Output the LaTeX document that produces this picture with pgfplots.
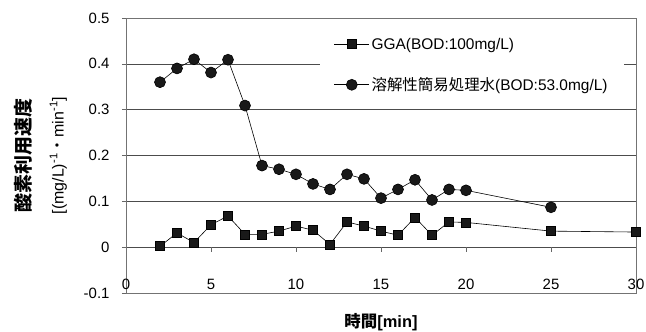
\documentclass[border=0pt]{standalone}
\usepackage{pgfplots}
\pgfplotsset{compat=1.18}
\usepackage{fontspec}
\setmainfont{Liberation Sans}
\newfontfamily\jp{Noto Sans CJK JP}
\begin{document}
\begin{tikzpicture}
\path[use as bounding box] (-126bp,-39bp) rectangle (520bp,293bp);
\begin{axis}[
  scale only axis, width=510bp, height=275bp,
  at={(0,0)}, anchor=south west,
  xmin=0, xmax=30, ymin=-0.1, ymax=0.5,
  xtick={0,5,10,15,20,25,30},
  ytick={-0.1,0,0.1,0.2,0.3,0.4,0.5},
  ymajorgrids, grid style={black!70, line width=0.6pt},
  axis line style={black!55, line width=0.6pt},
  x tick style={draw=none},
  y tick style={black!60, line width=0.6pt},
  tick align=outside, major tick length=4bp,
  xtick pos=bottom, ytick pos=left,
  xticklabel style={anchor=center, yshift=13bp},
  yticklabel style={xshift=-9bp},
  /pgf/number format/assume math mode=true,
  yticklabel={\pgfmathprintnumber[fixed,precision=1]{\tick}},
  tick label style={font=\fontsize{15}{17}\selectfont},
  xlabel={{\jp\bfseries 時間}{\bfseries [min]}},
  xlabel style={at={(axis description cs:0.5,0)}, anchor=center, yshift=-29bp, font=\fontsize{16.5}{18}\selectfont},
  ylabel={{\jp\bfseries\fontsize{19}{21}\selectfont 酸素利用速度}\\[16bp]{\fontsize{16}{18}\selectfont [(mg/L)\textsuperscript{-1}{\jp ・}min\textsuperscript{-1}]}},
  ylabel style={at={(axis description cs:-0.167,0.5)}, anchor=center, align=center},
  legend style={at={(0.38,0.965)}, anchor=north west, draw=none, fill=white,
    inner xsep=14bp, inner ysep=8bp, row sep=23bp,
    font=\fontsize{15.5}{17}\selectfont, nodes={inner sep=2bp}},
  legend cell align=left,
  legend image code/.code={\draw[#1, mark indices={2}] plot coordinates {(0bp,0bp) (17.5bp,0bp) (35bp,0bp)};},
]
\addplot[black, line width=0.6pt, mark=square*, mark size=4.5bp, mark options={solid, fill=black!90}] coordinates {
(2,0.002) (3,0.031) (4,0.010) (5,0.049) (6,0.068) (7,0.028) (8,0.028) (9,0.035) (10,0.046)
(11,0.037) (12,0.006) (13,0.055) (14,0.046) (15,0.035) (16,0.026) (17,0.065) (18,0.026)
(19,0.055) (20,0.054) (25,0.035) (30,0.033)};
\addlegendentry{GGA(BOD:100mg/L)}
\addplot[black, line width=0.6pt, mark=*, mark size=5.5bp, mark options={solid, fill=black!90}] coordinates {
(2,0.360) (3,0.390) (4,0.410) (5,0.381) (6,0.409) (7,0.309) (8,0.178) (9,0.170) (10,0.159)
(11,0.138) (12,0.126) (13,0.159) (14,0.149) (15,0.107) (16,0.126) (17,0.147) (18,0.103)
(19,0.126) (20,0.124) (25,0.087)};
\addlegendentry{{\jp 溶解性簡易処理水}(BOD:53.0mg/L)}
\pgfplotsinvokeforeach{5,10,15,20,25}{\draw[black!60, line width=0.6pt] (axis cs:#1,0) -- ++(0bp,-5bp);}
\end{axis}
\end{tikzpicture}
\end{document}
